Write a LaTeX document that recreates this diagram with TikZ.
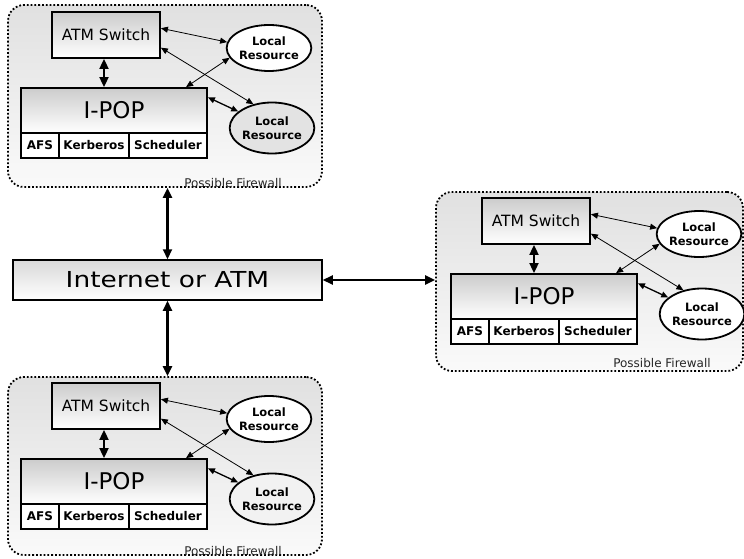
\documentclass[tikz,border=0pt]{standalone}
\usepackage{fontspec}
\setmainfont{DejaVu Sans}
\usetikzlibrary{arrows.meta,shapes.geometric,calc}
\tikzset{
  clusterbg/.style={draw=black, line width=1.8pt, dash pattern=on 1.8pt off 2pt, rounded corners=16pt,
    top color=gray!24, bottom color=gray!4, inner sep=0pt},
  graybox/.style={draw=black, line width=1.8pt, top color=gray!40, bottom color=white, inner sep=0pt},
  cellbox/.style={draw=black, line width=1.3pt, fill=white, inner sep=0pt, minimum height=25pt,
    font=\fontsize{12}{12}\selectfont\bfseries},
  resbox/.style={draw=black, ellipse, line width=1.8pt, inner sep=0pt, align=center,
    font=\fontsize{11.5}{14.5}\selectfont\bfseries},
  fwtext/.style={font=\fontsize{12}{12}\selectfont, text=black!85, inner sep=0pt},
  thinarrow/.style={line width=0.8pt, {Triangle[length=7pt,width=6pt]}-{Triangle[length=7pt,width=6pt]}},
  thickarrow/.style={line width=2.2pt, {Triangle[length=10pt,width=9pt]}-{Triangle[length=10pt,width=9pt]}},
}
\newcommand\mkcluster[4]{%
  \begin{scope}[shift={(#2,#3)}]
    \node[graybox, minimum width=108pt, minimum height=46pt] (#1atm) at (106,35)
      {\fontsize{15.5}{15.5}\selectfont ATM Switch};
    \node[graybox, minimum width=186pt, minimum height=45pt] (#1ipop) at (114,110.5)
      {\fontsize{23}{23}\selectfont I-POP};
    \node[cellbox, minimum width=38pt] (#1afs) at (40,145.5) {AFS};
    \node[cellbox, minimum width=70pt] (#1kerb) at (94,145.5) {Kerberos};
    \node[cellbox, minimum width=78pt] (#1sched) at (168,145.5) {Scheduler};
    \node[resbox, fill=white, minimum width=75pt, minimum height=46pt] (#1lra) at (269,48) {Local\\Resource};
    \node[resbox, fill=#4, minimum width=80pt, minimum height=51pt] (#1lrb) at (272,128) {Local\\Resource};
    \draw[thickarrow, line width=1.8pt] (#1atm.south -| 104,0) -- (#1ipop.north -| 104,0);
    \draw[thinarrow] (#1atm.7) -- (#1lra.172);
    \draw[thinarrow] (#1atm.-13) -- (#1lrb.128);
    \draw[thinarrow] (#1ipop.18) -- (#1lra.194);
    \draw[thinarrow, line width=1.3pt] (#1ipop.8) -- (#1lrb.154);
  \end{scope}}
\begin{document}
\begin{tikzpicture}[x=1pt,y=-1pt]
  \useasboundingbox[fill=white] (0,0) rectangle (744,559);
  % cluster backgrounds
  \node[clusterbg, minimum width=314pt, minimum height=182pt] (tbg) at (165,96) {};
  \node[clusterbg, minimum width=307pt, minimum height=179pt] (rbg) at (589.5,281.5) {};
  \node[clusterbg, minimum width=314pt, minimum height=178pt] (bbg) at (165,466) {};
  \node[fwtext] (tfw) at (233,183) {Possible Firewall};
  \node[fwtext] (rfw) at (662,363) {Possible Firewall};
  \node[fwtext] (bfw) at (233,551) {Possible Firewall};
  % clusters
  \mkcluster{t}{0}{0}{gray!22}
  \mkcluster{r}{430}{186}{white}
  \mkcluster{b}{0}{371}{gray!10}
  % internet
  \node[graybox, line width=1.5pt, top color=gray!30, minimum width=309pt, minimum height=40pt] (inet) at (167.5,280)
    {\scalebox{1.2}[1]{\fontsize{22}{22}\selectfont Internet or ATM}};
  \draw[thickarrow] (inet.north |- tbg.south) -- (inet.north);
  \draw[thickarrow] (inet.south) -- (inet.south |- bbg.north);
  \draw[thickarrow] (inet.east) -- (rbg.west |- inet.east);
\end{tikzpicture}
\end{document}
